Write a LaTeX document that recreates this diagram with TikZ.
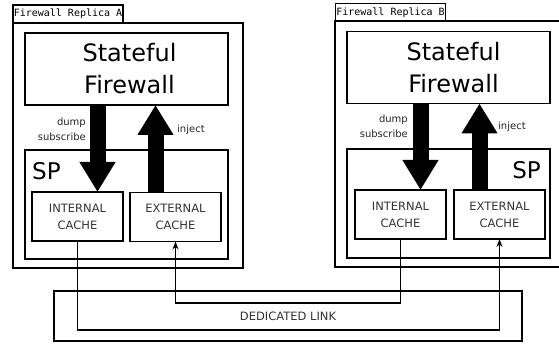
\documentclass[tikz,border=0pt]{standalone}
\usepackage{fontspec}
\setmainfont{DejaVu Sans}
\setmonofont{DejaVu Sans Mono}
\usetikzlibrary{shapes, positioning, arrows.meta, calc}

\begin{document}
\begin{tikzpicture}[x=1pt, y=-1pt,
    box/.style={draw, line width=1.2pt, inner sep=0pt, outer sep=0pt},
    tab/.style={box, font=\ttfamily\fontsize{10}{11}\selectfont, minimum width=110pt, minimum height=18pt},
    fw/.style={box, minimum width=203pt, minimum height=72pt, align=center, font=\fontsize{24}{32}\selectfont},
    sp/.style={box, minimum width=203pt, minimum height=109pt},
    cache/.style={box, minimum width=91pt, minimum height=49pt, align=center, text=black!80, font=\fontsize{11.5}{17}\selectfont},
    bigarrow/.style={line width=16pt, -{Triangle[length=30pt, width=34pt]}},
    link/.style={line width=1.2pt, -{Stealth[length=8pt, width=6pt]}},
    lbl/.style={text=black!85, font=\fontsize{10}{15}\selectfont}]
    \useasboundingbox (0,0) rectangle (559,344);

    % dedicated link
    \node[box, minimum width=468pt, minimum height=50pt, text=black!80, font=\fontsize{11.5}{14}\selectfont] (link) at (288,316) {DEDICATED LINK};
    \coordinate (linkHigh) at (0,303);
    \coordinate (linkLow) at (0,330);

    % replica A
    \node[box, minimum width=230pt, minimum height=245pt] (repA) at (128,145.5) {};
    \node[tab] (tabA) at (68,14) {Firewall Replica A};
    \node[fw] (sfA) at (126.5,69) {\hspace*{6pt}Stateful\\\hspace*{6pt}Firewall};
    \node[sp] (spA) at (126.5,204.5) {};
    \node[font=\fontsize{23}{26}\selectfont, inner sep=0pt, anchor=west] at (32,171) {SP};
    \node[cache] (intA) at (77.5,216.5) {INTERNAL\\CACHE};
    \node[cache] (extA) at (175.5,217) {EXTERNAL\\CACHE};
    \draw[bigarrow] ([xshift=20pt]intA.north |- sfA.south) -- ([xshift=20pt]intA.north);
    \draw[bigarrow] ([xshift=-20pt]extA.north) -- ([xshift=-20pt]extA.north |- sfA.south);
    \node[lbl, align=right, anchor=east, inner sep=0pt] at (86,129) {dump\\subscribe};
    \node[lbl, anchor=west, inner sep=0pt] at (177,130) {inject};

    % replica B
    \node[box, minimum width=227pt, minimum height=246pt] (repB) at (448.5,144) {};
    \node[tab] (tabB) at (390.5,12.5) {Firewall Replica B};
    \node[fw] (sfB) at (448.5,67.5) {\hspace*{10pt}Stateful\\\hspace*{10pt}Firewall};
    \node[sp] (spB) at (448.5,203.5) {};
    \node[font=\fontsize{23}{26}\selectfont, inner sep=0pt, anchor=east] at (541,170) {SP};
    \node[cache] (intB) at (400.5,214.5) {INTERNAL\\CACHE};
    \node[cache] (extB) at (499.5,214.5) {EXTERNAL\\CACHE};
    \draw[bigarrow] ([xshift=20pt]intB.north |- sfB.south) -- ([xshift=20pt]intB.north);
    \draw[bigarrow] ([xshift=-20pt]extB.north) -- ([xshift=-20pt]extB.north |- sfB.south);
    \node[lbl, align=right, anchor=east, inner sep=0pt] at (408,126) {dump\\subscribe};
    \node[lbl, anchor=west, inner sep=0pt] at (498,127) {inject};

    % cache sync
    \draw[link] (intA.south) -- (intA.south |- linkLow) -| (extB.south);
    \draw[link] (intB.south) -- (intB.south |- linkHigh) -| (extA.south);
\end{tikzpicture}
\end{document}
